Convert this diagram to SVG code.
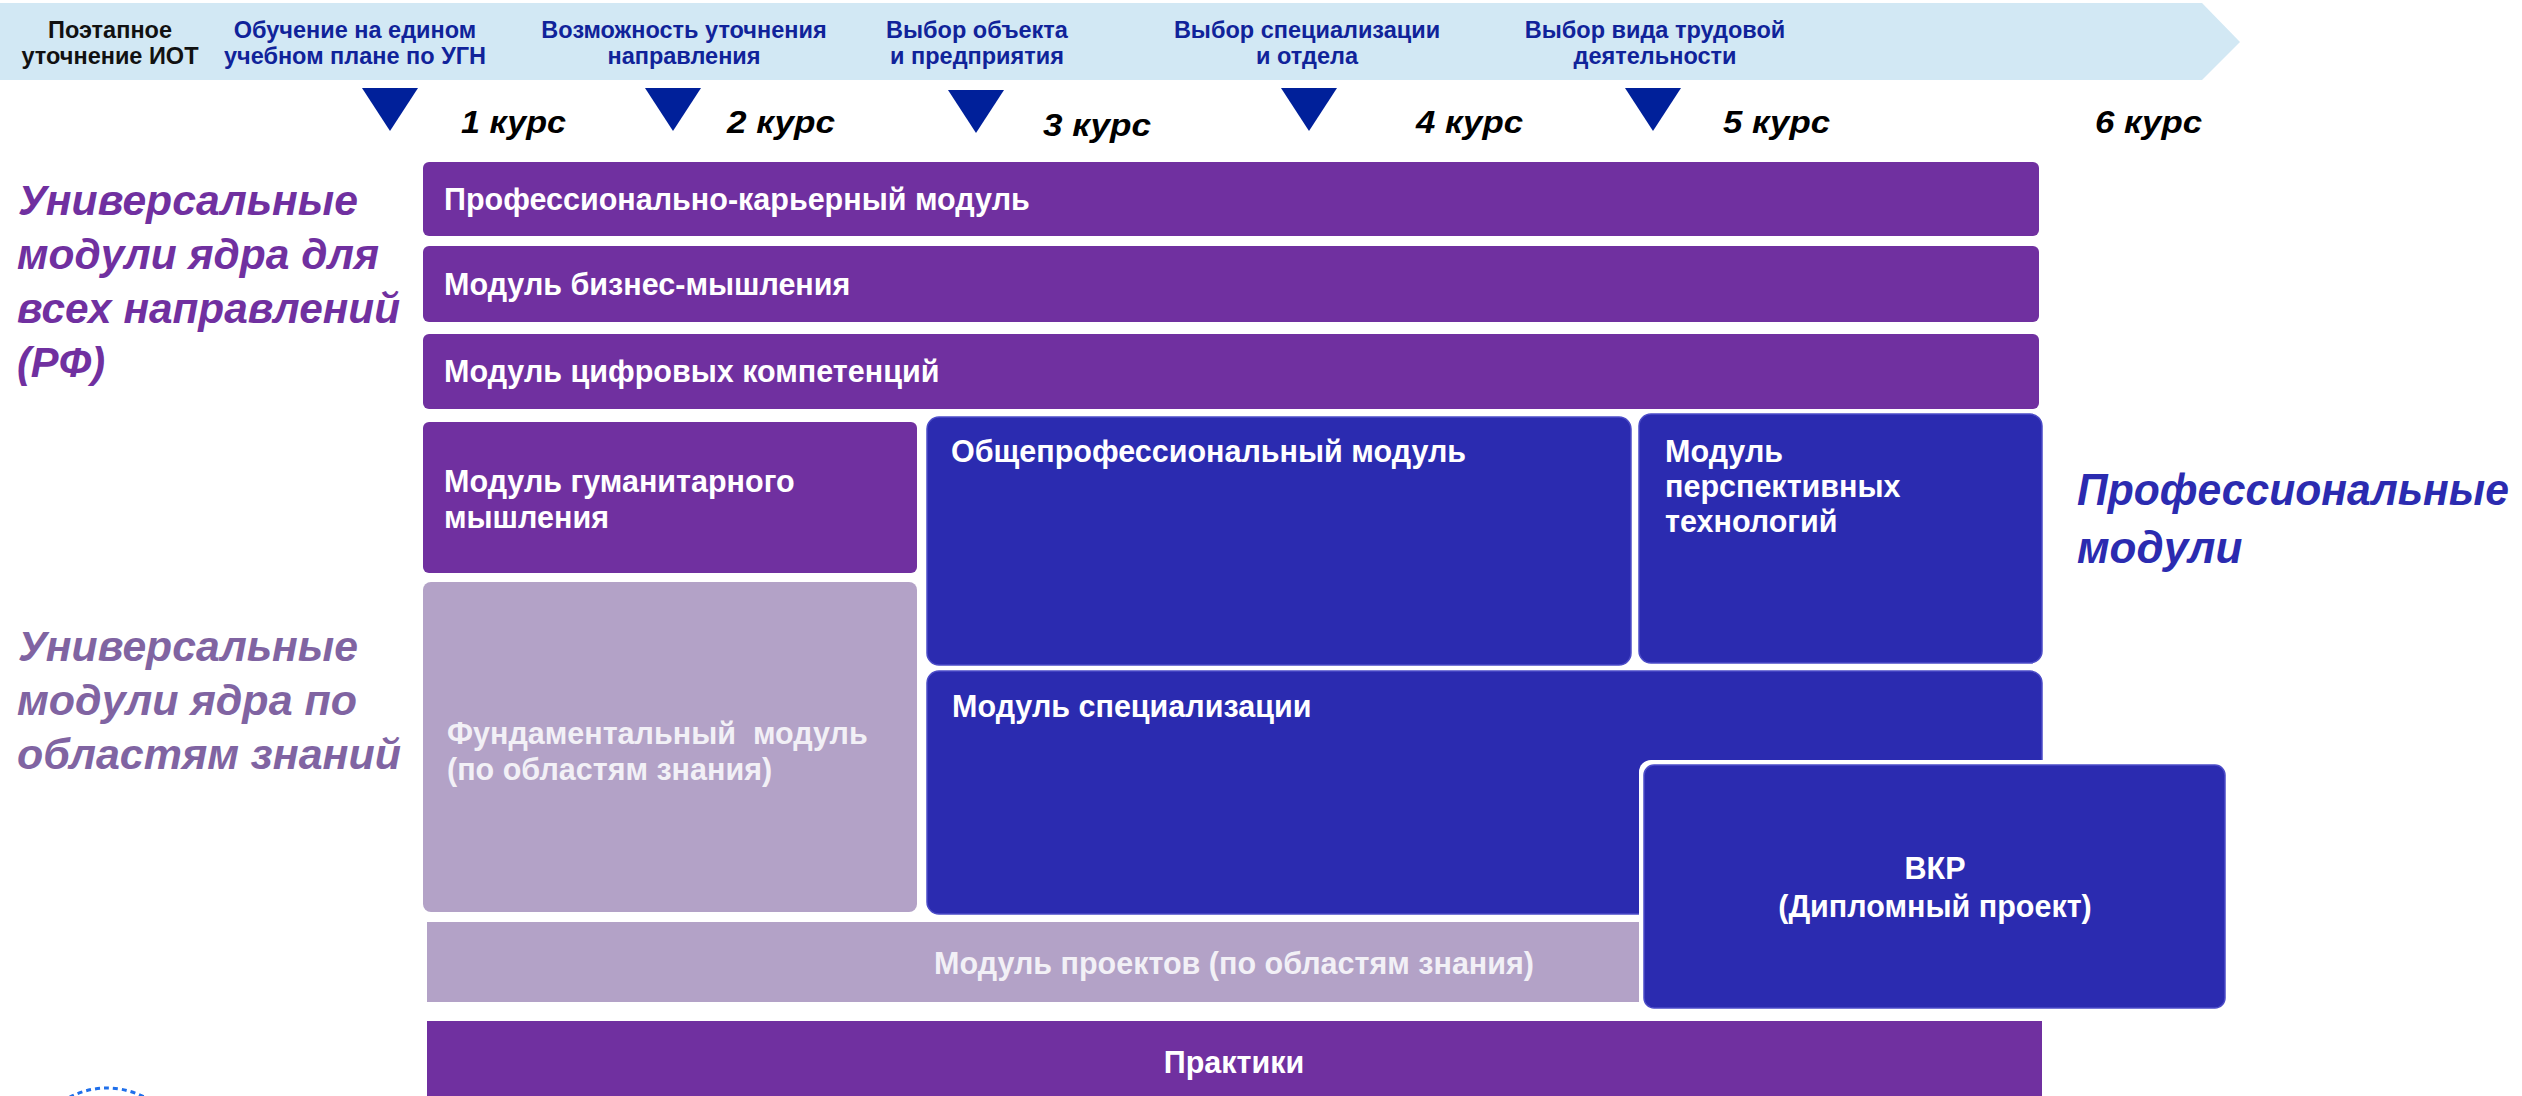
<svg xmlns="http://www.w3.org/2000/svg" width="2522" height="1096" viewBox="0 0 2522 1096">
<style>
.hdr{font-family:"Liberation Sans",Arial,sans-serif;font-weight:bold;font-size:23.5px;fill:#10239A;text-anchor:middle}
.hdr0{fill:#111111}
.kurs{font-family:"Liberation Sans",Arial,sans-serif;font-weight:bold;font-style:italic;font-size:31px;fill:#000000}
.side{font-family:"Liberation Sans",Arial,sans-serif;font-weight:bold;font-style:italic;font-size:42px}
.lbl{font-family:"Liberation Sans",Arial,sans-serif;font-weight:bold;font-size:30.5px;fill:#FFFFFF}
.lbl2{fill:#F2F0F6}
.mid{text-anchor:middle}
.purple{fill:#7030A0}
.blue{fill:#2B2BB0;stroke:#4C4CC8;stroke-width:1.5}
.lav{fill:#B3A2C7}
.tri{fill:#00209A}
</style>
<rect width="2522" height="1096" fill="#FFFFFF"/>
<g id="timeline">
<polygon points="0,3 2202,3 2240,42 2202,80 0,80" fill="#D2E8F4"/>
<text class="hdr hdr0" x="110" y="38">Поэтапное</text>
<text class="hdr hdr0" x="110" y="64">уточнение ИОТ</text>
<text class="hdr" x="355" y="38">Обучение на едином</text>
<text class="hdr" x="355" y="64">учебном плане по УГН</text>
<text class="hdr" x="684" y="38">Возможность уточнения</text>
<text class="hdr" x="684" y="64">направления</text>
<text class="hdr" x="977" y="38">Выбор объекта</text>
<text class="hdr" x="977" y="64">и предприятия</text>
<text class="hdr" x="1307" y="38">Выбор специализации</text>
<text class="hdr" x="1307" y="64">и отдела</text>
<text class="hdr" x="1655" y="38">Выбор вида трудовой</text>
<text class="hdr" x="1655" y="64">деятельности</text>
</g>
<g id="milestones">
<polygon class="tri" points="362,88 418,88 390,131"/>
<polygon class="tri" points="645,88 701,88 673,131"/>
<polygon class="tri" points="948,90 1004,90 976,133"/>
<polygon class="tri" points="1281,88 1337,88 1309,131"/>
<polygon class="tri" points="1625,88 1681,88 1653,131"/>
</g>
<g id="courses">
<text class="kurs" x="461" y="133" textLength="105" lengthAdjust="spacingAndGlyphs">1 курс</text>
<text class="kurs" x="727" y="133" textLength="108" lengthAdjust="spacingAndGlyphs">2 курс</text>
<text class="kurs" x="1043" y="136" textLength="108" lengthAdjust="spacingAndGlyphs">3 курс</text>
<text class="kurs" x="1416" y="133" textLength="107" lengthAdjust="spacingAndGlyphs">4 курс</text>
<text class="kurs" x="1723" y="133" textLength="107" lengthAdjust="spacingAndGlyphs">5 курс</text>
<text class="kurs" x="2095" y="133" textLength="107" lengthAdjust="spacingAndGlyphs">6 курс</text>
</g>
<g id="label-universal-rf">
<text class="side" fill="#7030A0" x="18" y="215" textLength="340" lengthAdjust="spacingAndGlyphs">Универсальные</text>
<text class="side" fill="#7030A0" x="17" y="269" textLength="362" lengthAdjust="spacingAndGlyphs">модули ядра для</text>
<text class="side" fill="#7030A0" x="17" y="323" textLength="383" lengthAdjust="spacingAndGlyphs">всех направлений</text>
<text class="side" fill="#7030A0" x="17" y="377" textLength="88" lengthAdjust="spacingAndGlyphs">(РФ)</text>
</g>
<g id="label-universal-areas">
<text class="side" fill="#8064A2" x="18" y="661" textLength="340" lengthAdjust="spacingAndGlyphs">Универсальные</text>
<text class="side" fill="#8064A2" x="17" y="715" textLength="340" lengthAdjust="spacingAndGlyphs">модули ядра по</text>
<text class="side" fill="#8064A2" x="17" y="769" textLength="384" lengthAdjust="spacingAndGlyphs">областям знаний</text>
</g>
<g id="label-professional">
<text class="side" fill="#2B2BB0" x="2077" y="505" textLength="432" lengthAdjust="spacingAndGlyphs" style="font-size:44px">Профессиональные</text>
<text class="side" fill="#2B2BB0" x="2077" y="563" style="font-size:44px">модули</text>
</g>
<g id="node-career">
<rect class="purple" x="423" y="162" width="1616" height="74" rx="6"/>
<text class="lbl" x="444" y="210">Профессионально-карьерный модуль</text>
</g>
<g id="node-business">
<rect class="purple" x="423" y="246" width="1616" height="76" rx="6"/>
<text class="lbl" x="444" y="295">Модуль бизнес-мышления</text>
</g>
<g id="node-digital">
<rect class="purple" x="423" y="334" width="1616" height="75" rx="6"/>
<text class="lbl" x="444" y="382">Модуль цифровых компетенций</text>
</g>
<g id="node-humanitarian">
<rect class="purple" x="423" y="422" width="494" height="151" rx="6"/>
<text class="lbl" x="444" y="492">Модуль гуманитарного</text>
<text class="lbl" x="444" y="528">мышления</text>
</g>
<g id="node-fundamental">
<rect class="lav" x="423" y="582" width="494" height="330" rx="8"/>
<text class="lbl lbl2" x="447" y="744" xml:space="preserve">Фундаментальный  модуль</text>
<text class="lbl lbl2" x="447" y="780">(по областям знания)</text>
</g>
<g id="node-general-professional">
<rect class="blue" x="927" y="417" width="704" height="248" rx="12"/>
<text class="lbl" x="951" y="462">Общепрофессиональный модуль</text>
</g>
<g id="node-perspective">
<rect class="blue" x="1639" y="414" width="403" height="249" rx="12"/>
<text class="lbl" x="1665" y="462">Модуль</text>
<text class="lbl" x="1665" y="497">перспективных</text>
<text class="lbl" x="1665" y="532">технологий</text>
</g>
<g id="node-specialization">
<rect class="blue" x="927" y="671" width="1115" height="243" rx="12"/>
<text class="lbl" x="952" y="717">Модуль специализации</text>
</g>
<g id="node-projects">
<rect class="lav" x="427" y="922" width="1615" height="80"/>
<text class="lbl lbl2 mid" x="1234" y="974">Модуль проектов (по областям знания)</text>
</g>
<g id="node-vkr">
<rect x="1639" y="760" width="591" height="253" rx="12" fill="#FFFFFF"/>
<rect class="blue" x="1644" y="765" width="581" height="243" rx="10"/>
<text class="lbl mid" x="1935" y="879">ВКР</text>
<text class="lbl mid" x="1935" y="917">(Дипломный проект)</text>
</g>
<g id="node-practices">
<rect class="purple" x="427" y="1021" width="1615" height="80"/>
<text class="lbl mid" x="1234" y="1073">Практики</text>
</g>
<g id="connectors"></g>
<g id="decor">
<circle cx="107" cy="1169" r="81" fill="none" stroke="#1F6FEA" stroke-width="3" stroke-dasharray="5 4"/>
</g>
</svg>
